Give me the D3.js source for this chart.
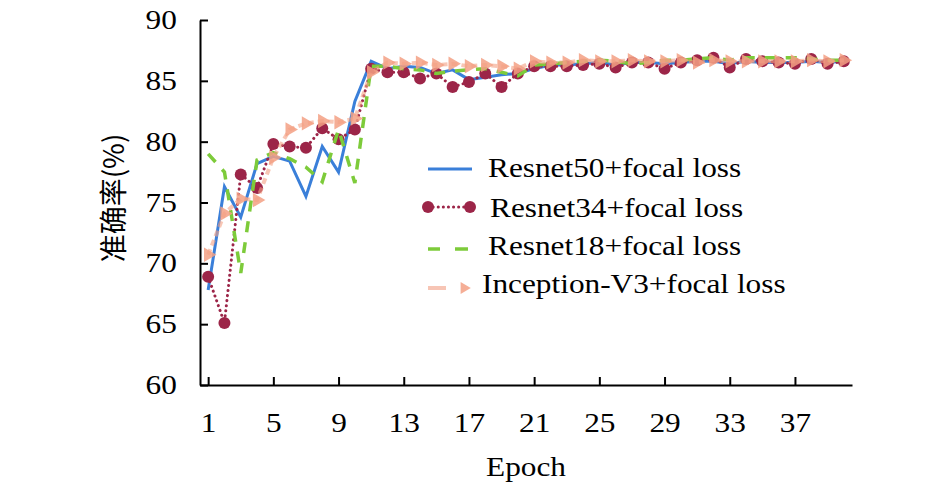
<!DOCTYPE html>
<html lang="zh">
<head>
  <meta charset="UTF-8" />
  <title>Accuracy per epoch</title>
  <script src="https://cdnjs.cloudflare.com/ajax/libs/d3/7.8.5/d3.min.js"></script>
  <style>
    body { margin: 0; background: #fff; }
    svg { display: block; }
    text { font-family: "Liberation Serif", "Times New Roman", serif; fill: #000; }
  </style>
</head>
<body>
  <svg id="chart" width="945" height="489"></svg>

  <script>
    // values
    const epochs = d3.range(1, 41);
    const xTickLabels = [1, 5, 9, 13, 17, 21, 25, 29, 33, 37];
    const yTickLabels = [60, 65, 70, 75, 80, 85, 90];

    const resnet50 = [67.8, 76.3, 73.8, 78.2, 78.8, 78.4, 75.5, 79.6, 77.5, 83.3,
      86.6, 86.0, 86.2, 86.1, 85.6, 85.9, 85.1, 85.3, 85.5, 85.6,
      86.0, 86.3, 86.3, 86.4, 86.5, 86.3, 86.5, 86.5, 86.4, 86.5,
      86.6, 86.6, 86.4, 86.6, 86.5, 86.5, 86.5, 86.6, 86.5, 86.6];
    const resnet34 = [68.9, 65.1, 77.3, 76.2, 79.8, 79.6, 79.5, 81.1, 80.2, 81.0,
      86.0, 85.7, 85.7, 85.2, 85.6, 84.5, 84.9, 85.6, 84.5, 85.6,
      86.2, 86.2, 86.2, 86.3, 86.4, 86.1, 86.5, 86.5, 86.0, 86.5,
      86.7, 86.9, 86.1, 86.8, 86.6, 86.5, 86.4, 86.8, 86.4, 86.6];
    const resnet18 = [79.0, 77.5, 69.2, 78.5, 79.1, 78.6, 77.9, 76.7, 81.0, 76.6,
      86.2, 86.2, 86.0, 85.9, 85.6, 85.8, 85.9, 86.0, 85.7, 85.4,
      86.3, 86.4, 86.5, 86.6, 86.7, 86.6, 86.4, 86.5, 86.7, 86.7,
      86.8, 86.9, 86.7, 86.9, 86.9, 86.9, 86.9, 86.8, 86.7, 86.7];
    const inception = [70.7, 74.1, 75.3, 75.2, 78.7, 81.0, 81.5, 81.7, 81.6, 81.9,
      85.7, 86.5, 86.4, 86.5, 86.3, 86.4, 86.2, 86.3, 86.2, 86.0,
      86.6, 86.5, 86.5, 86.7, 86.6, 86.6, 86.7, 86.6, 86.6, 86.7,
      86.5, 86.7, 86.6, 86.6, 86.6, 86.6, 86.6, 86.7, 86.6, 86.7];

    const seriesNames = ["Resnet50+focal loss", "Resnet34+focal loss",
      "Resnet18+focal loss", "Inception-V3+focal loss"];

    const blue = "#3a7fd9", maroon = "#9c2548", green = "#7dcb3a", salmon = "#f3a084";
    const stretch = 1.16; // the reference text is a bit wide

    const svg = d3.select("#chart");
    const x = d3.scaleLinear().domain([0.5, 40.5]).range([200, 852]);
    const y = d3.scaleLinear().domain([60, 90]).range([385, 20]);

    // axes, ticks pointing inward
    const xAxis = svg.append("g")
      .attr("transform", "translate(0,385)")
      .call(d3.axisBottom(x).tickValues(xTickLabels).tickSizeInner(-8).tickSizeOuter(0));
    xAxis.selectAll("text")
      .attr("y", 47).attr("dy", 0)
      .attr("font-size", 27)
      .attr("transform", `scale(${stretch},1)`);

    const yAxis = svg.append("g")
      .attr("transform", "translate(200,0)")
      .call(d3.axisLeft(y).tickValues(yTickLabels).tickSizeInner(-8).tickSizeOuter(0).tickPadding(20));
    yAxis.selectAll("text")
      .attr("font-size", 27)
      .attr("transform", `scale(${stretch},1)`);

    svg.selectAll(".domain, .tick line").attr("stroke", "#000").attr("stroke-width", 2);

    svg.append("text")
      .attr("transform", `translate(526,476) scale(${stretch},1)`)
      .attr("text-anchor", "middle")
      .attr("font-size", 27)
      .text("Epoch");

    svg.append("text")
      .attr("transform", "translate(124,198) rotate(-90)")
      .attr("text-anchor", "middle")
      .attr("font-size", 28)
      .style("font-family", "'Noto Sans CJK SC', 'Liberation Serif', serif")
      .text("准确率(%)");

    const line = d3.line().x((d, i) => x(epochs[i])).y(d => y(d));
    const tri = d3.symbol().type(d3.symbolTriangle).size(90);

    // Resnet50
    svg.append("path").datum(resnet50)
      .attr("d", line).attr("fill", "none")
      .attr("stroke", blue).attr("stroke-width", 3);

    // Resnet34
    svg.append("path").datum(resnet34)
      .attr("d", line).attr("fill", "none")
      .attr("stroke", maroon).attr("stroke-width", 3)
      .attr("stroke-dasharray", "0.1,5").attr("stroke-linecap", "round");
    svg.append("g").selectAll("circle")
      .data(resnet34).join("circle")
      .attr("cx", (d, i) => x(epochs[i])).attr("cy", d => y(d))
      .attr("r", 6).attr("fill", maroon);

    // Resnet18
    svg.append("path").datum(resnet18)
      .attr("d", line).attr("fill", "none")
      .attr("stroke", green).attr("stroke-width", 3.5)
      .attr("stroke-dasharray", "11,10");

    // Inception-V3
    svg.append("path").datum(inception)
      .attr("d", line).attr("fill", "none")
      .attr("stroke", salmon).attr("stroke-width", 4).attr("opacity", 0.6)
      .attr("stroke-dasharray", "6,4");
    svg.append("g").selectAll("path")
      .data(inception).join("path")
      .attr("d", tri)
      .attr("transform", (d, i) => `translate(${x(epochs[i])},${y(d)}) rotate(90)`)
      .attr("fill", salmon).attr("opacity", 0.85);

    // legend
    const lg = svg.append("g");
    const rows = [169, 207, 249, 288];
    const textX = [488, 490, 488, 482];
    const baselines = [177, 217, 255, 293];

    lg.append("line").attr("x1", 428).attr("x2", 472).attr("y1", rows[0]).attr("y2", rows[0])
      .attr("stroke", blue).attr("stroke-width", 3);

    lg.append("line").attr("x1", 428).attr("x2", 470).attr("y1", rows[1]).attr("y2", rows[1])
      .attr("stroke", maroon).attr("stroke-width", 3)
      .attr("stroke-dasharray", "0.1,5").attr("stroke-linecap", "round");
    lg.selectAll("circle.lg").data([428, 470]).join("circle")
      .attr("cx", d => d).attr("cy", rows[1]).attr("r", 6).attr("fill", maroon);

    lg.selectAll("line.g18").data([[428, 440], [455, 468]]).join("line")
      .attr("x1", d => d[0]).attr("x2", d => d[1])
      .attr("y1", rows[2]).attr("y2", rows[2])
      .attr("stroke", green).attr("stroke-width", 3.5);

    lg.append("line").attr("x1", 428).attr("x2", 446).attr("y1", rows[3]).attr("y2", rows[3])
      .attr("stroke", salmon).attr("stroke-width", 4).attr("opacity", 0.6);
    lg.append("path").attr("d", d3.symbol().type(d3.symbolTriangle).size(60))
      .attr("transform", `translate(464,${rows[3]}) rotate(90)`)
      .attr("fill", salmon).attr("opacity", 0.85);

    lg.selectAll("text").data(seriesNames).join("text")
      .attr("transform", (d, i) => `translate(${textX[i]},${baselines[i]}) scale(${stretch},1)`)
      .attr("font-size", 27)
      .text(d => d);
  </script>
</body>
</html>
